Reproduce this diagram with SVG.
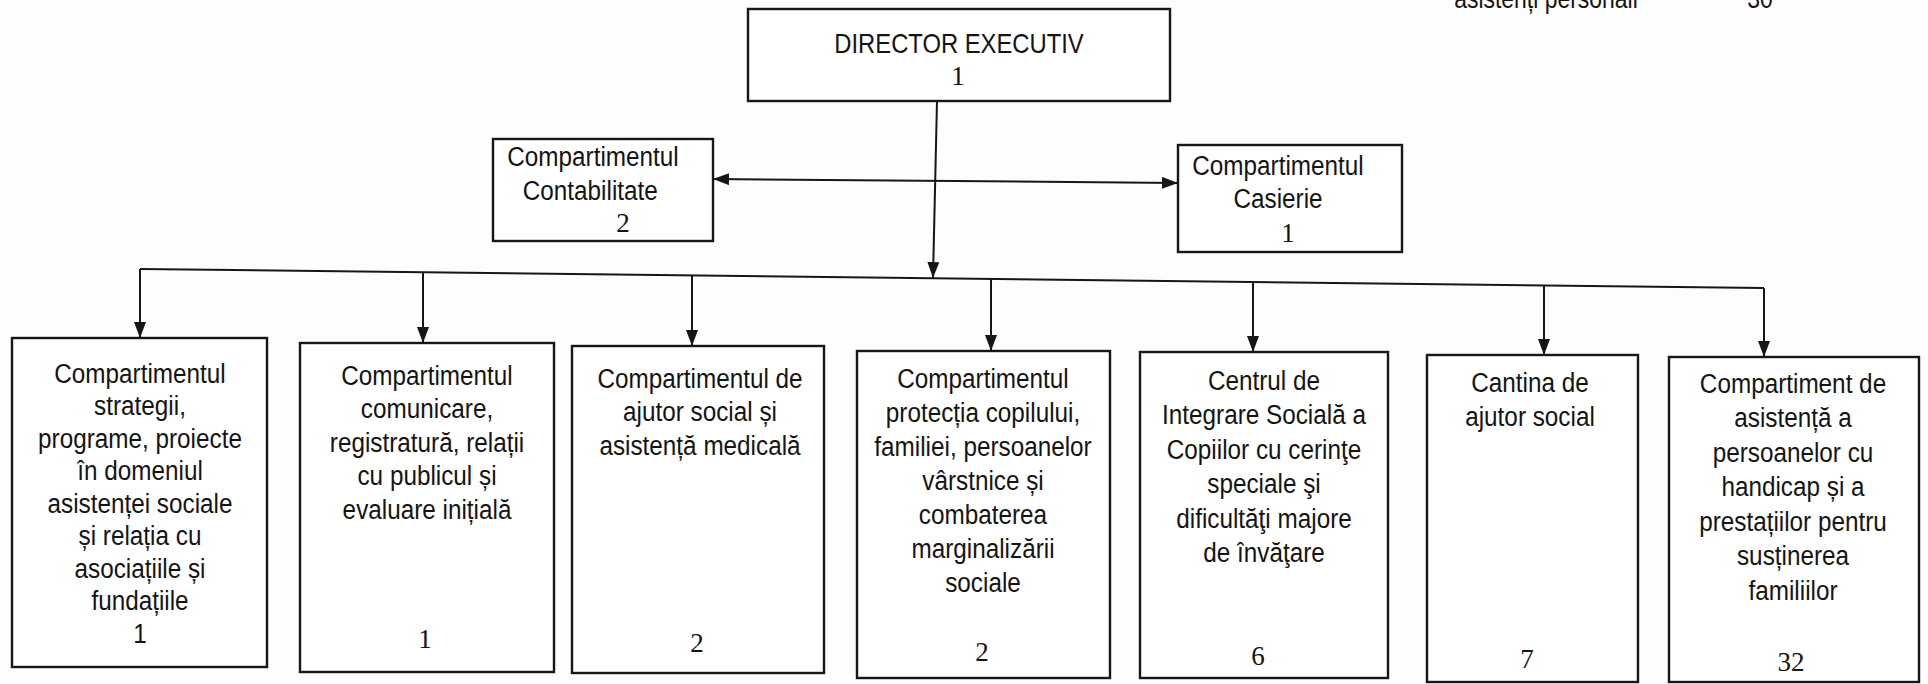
<svg xmlns="http://www.w3.org/2000/svg" width="1928" height="684" viewBox="0 0 1928 684">
<defs>
<style>
.bg{fill:#fdfdfd}
.box{fill:#ffffff;stroke:#161616;stroke-width:2.4}
.ln{fill:none;stroke:#161616;stroke-width:2}
.t{font-family:"Liberation Sans",Arial,sans-serif;font-size:27px;text-anchor:middle;fill:#141414}
.n{font-family:"Liberation Serif","Times New Roman",serif;font-size:27px;text-anchor:middle;fill:#141414}
</style>
<marker id="ah" markerUnits="userSpaceOnUse" markerWidth="16" markerHeight="12" refX="16" refY="6" orient="auto-start-reverse">
<path d="M0,0 L16,6 L0,12 Z" fill="#161616"/>
</marker>
</defs>
<rect class="bg" x="0" y="0" width="1928" height="684"/>

<g id="note">
<text class="t" transform="translate(1546 0) scale(0.85 1)"><tspan x="0" y="8">asistenți personali</tspan></text>
<text class="t" transform="translate(1760 0) scale(0.85 1)"><tspan x="0" y="8">30</tspan></text>
</g>

<g id="connectors">
<line class="ln" x1="937" y1="101" x2="933" y2="278" marker-end="url(#ah)"/>
<line class="ln" x1="713" y1="179" x2="1178" y2="183" marker-start="url(#ah)" marker-end="url(#ah)"/>
<line class="ln" x1="140" y1="269" x2="1764" y2="288"/>
<line class="ln" x1="140" y1="269" x2="140" y2="338" marker-end="url(#ah)"/>
<line class="ln" x1="423" y1="272" x2="423" y2="343" marker-end="url(#ah)"/>
<line class="ln" x1="692" y1="275.5" x2="692" y2="346" marker-end="url(#ah)"/>
<line class="ln" x1="991" y1="279" x2="991" y2="351" marker-end="url(#ah)"/>
<line class="ln" x1="1253" y1="282" x2="1253" y2="352" marker-end="url(#ah)"/>
<line class="ln" x1="1544" y1="285.4" x2="1544" y2="355" marker-end="url(#ah)"/>
<line class="ln" x1="1764" y1="288" x2="1764" y2="357" marker-end="url(#ah)"/>
</g>

<g id="director">
<rect class="box" x="748" y="9" width="422" height="92"/>
<text class="t" transform="translate(959 0) scale(0.85 1)"><tspan x="0" y="53" style="font-size:28px">DIRECTOR EXECUTIV</tspan></text>
<text class="n"><tspan x="958" y="85">1</tspan></text>
</g>

<g id="contabilitate">
<rect class="box" x="493" y="139" width="220" height="102"/>
<text class="t" transform="translate(593 0) scale(0.9 1)"><tspan x="0" y="166">Compartimentul</tspan><tspan x="-3" y="200">Contabilitate</tspan></text>
<text class="n"><tspan x="623" y="232">2</tspan></text>
</g>

<g id="casierie">
<rect class="box" x="1178" y="145" width="224" height="107"/>
<text class="t" transform="translate(1278 0) scale(0.9 1)"><tspan x="0" y="175">Compartimentul</tspan><tspan x="0" y="208">Casierie</tspan></text>
<text class="n"><tspan x="1288" y="242">1</tspan></text>
</g>

<g id="strategii">
<rect class="box" x="12" y="338" width="255" height="329"/>
<text class="t" transform="translate(140 0) scale(0.9 1)"><tspan x="0" y="383">Compartimentul</tspan><tspan x="0" y="415.5">strategii,</tspan><tspan x="0" y="448">programe, proiecte</tspan><tspan x="0" y="480.5">în domeniul</tspan><tspan x="0" y="513">asistenței sociale</tspan><tspan x="0" y="545.5">și relația cu</tspan><tspan x="0" y="578">asociațiile și</tspan><tspan x="0" y="610.5">fundațiile</tspan><tspan x="0" y="643">1</tspan></text>
</g>

<g id="comunicare">
<rect class="box" x="300" y="343" width="254" height="329"/>
<text class="t" transform="translate(427 0) scale(0.9 1)"><tspan x="0" y="385">Compartimentul</tspan><tspan x="0" y="418.5">comunicare,</tspan><tspan x="0" y="452">registratură, relații</tspan><tspan x="0" y="485.5">cu publicul și</tspan><tspan x="0" y="519">evaluare inițială</tspan></text>
<text class="n"><tspan x="425" y="648">1</tspan></text>
</g>

<g id="ajutor-social">
<rect class="box" x="572" y="346" width="252" height="327"/>
<text class="t" transform="translate(700 0) scale(0.9 1)"><tspan x="0" y="388">Compartimentul de</tspan><tspan x="0" y="421.5">ajutor social și</tspan><tspan x="0" y="455">asistență medicală</tspan></text>
<text class="n"><tspan x="697" y="652">2</tspan></text>
</g>

<g id="protectia">
<rect class="box" x="857" y="351" width="253" height="327"/>
<text class="t" transform="translate(983 0) scale(0.9 1)"><tspan x="0" y="388">Compartimentul</tspan><tspan x="0" y="422">protecția copilului,</tspan><tspan x="0" y="456">familiei, persoanelor</tspan><tspan x="0" y="490">vârstnice și</tspan><tspan x="0" y="524">combaterea</tspan><tspan x="0" y="558">marginalizării</tspan><tspan x="0" y="592">sociale</tspan></text>
<text class="n"><tspan x="982" y="661">2</tspan></text>
</g>

<g id="centrul">
<rect class="box" x="1140" y="352" width="248" height="326"/>
<text class="t" transform="translate(1264 0) scale(0.9 1)"><tspan x="0" y="390">Centrul de</tspan><tspan x="0" y="424.5">Integrare Socială a</tspan><tspan x="0" y="459">Copiilor cu cerinţe</tspan><tspan x="0" y="493.5">speciale şi</tspan><tspan x="0" y="528">dificultăţi majore</tspan><tspan x="0" y="562.5">de învăţare</tspan></text>
<text class="n"><tspan x="1258" y="665">6</tspan></text>
</g>

<g id="cantina">
<rect class="box" x="1427" y="355" width="211" height="327"/>
<text class="t" transform="translate(1530 0) scale(0.9 1)"><tspan x="0" y="392">Cantina de</tspan><tspan x="0" y="426">ajutor social</tspan></text>
<text class="n"><tspan x="1527" y="668">7</tspan></text>
</g>

<g id="handicap">
<rect class="box" x="1669" y="357" width="250" height="325"/>
<text class="t" transform="translate(1793 0) scale(0.9 1)"><tspan x="0" y="393">Compartiment de</tspan><tspan x="0" y="427.5">asistență a</tspan><tspan x="0" y="462">persoanelor cu</tspan><tspan x="0" y="496.5">handicap și a</tspan><tspan x="0" y="531">prestațiilor pentru</tspan><tspan x="0" y="565.5">susținerea</tspan><tspan x="0" y="600">familiilor</tspan></text>
<text class="n"><tspan x="1791" y="671">32</tspan></text>
</g>
</svg>
